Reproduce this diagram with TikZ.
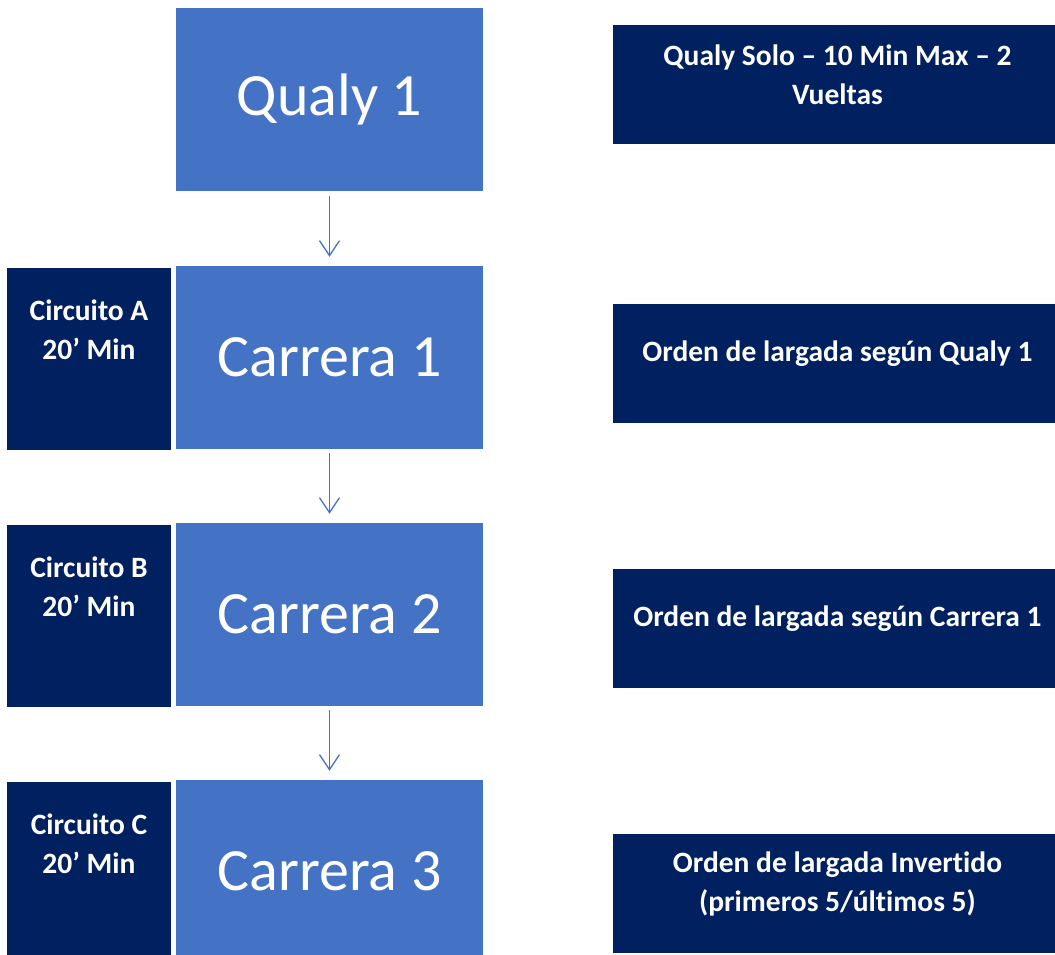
\documentclass[tikz,border=0pt]{standalone}
\usepackage{fontspec}
\setmainfont{Carlito}[Ligatures=NoCommon]
\usetikzlibrary{arrows.meta,positioning}
\definecolor{stageblue}{HTML}{4472C4}
\definecolor{navyblue}{HTML}{002060}

\begin{document}
\begin{tikzpicture}[x=1pt, y=1pt,
  stage/.style={fill=stageblue, minimum width=307pt, minimum height=183pt, inner sep=0pt, text=white, font=\fontsize{60}{72}\selectfont},
  track/.style={fill=navyblue, minimum width=164pt, minimum height=182pt, inner sep=0pt},
  rule/.style={fill=navyblue, minimum width=449pt, minimum height=119pt, inner sep=0pt},
  boldtxt/.style={text=white, align=center, inner sep=0pt, font=\bfseries\fontsize{29.5}{39}\selectfont},
  flow/.style={draw=stageblue, line width=1.3pt, -{Straight Barb[length=15pt,width=20pt]}, shorten <=4pt, shorten >=9pt}]
\clip (0,0) rectangle (1055,955);
\node[stage] (qualy) at (329.5,855) {Qualy 1};
\node[stage] (race1) at (329.5,597.5) {Carrera 1};
\node[stage] (race2) at (329.5,340.5) {Carrera 2};
\node[stage] (race3) at (329.5,83.5) {Carrera 3};
\draw[flow] (qualy) -- (race1);
\draw[flow] (race1) -- (race2);
\draw[flow] (race2) -- (race3);
\node[track] (trackA) at (89,596) {};
\node[track] (trackB) at (89,339) {};
\node[track] (trackC) at (89,82) {};
\node[boldtxt] (trackAtxt) at ([yshift=-62pt]trackA.north) {Circuito A\\20’ Min};
\node[boldtxt] (trackBtxt) at ([yshift=-62pt]trackB.north) {Circuito B\\20’ Min};
\node[boldtxt] (trackCtxt) at ([yshift=-62pt]trackC.north) {Circuito C\\20’ Min};
\node[rule] (solo) at (837.5,870.5) {};
\node[rule] (grid1) at (837.5,591.5) {};
\node[rule] (grid2) at (837.5,326.5) {};
\node[rule] (grid3) at (837.5,61.5) {};
\node[boldtxt] (solotxt) at ([yshift=10pt]solo) {Qualy Solo – 10 Min Max – 2\\Vueltas};
\node[boldtxt] (grid1txt) at ([yshift=10pt]grid1) {Orden de largada según Qualy 1};
\node[boldtxt] (grid2txt) at ([yshift=10pt]grid2) {Orden de largada según Carrera 1};
\node[boldtxt] (grid3txt) at ([yshift=10pt]grid3) {Orden de largada Invertido\\(primeros 5/últimos 5)};
\end{tikzpicture}
\end{document}
